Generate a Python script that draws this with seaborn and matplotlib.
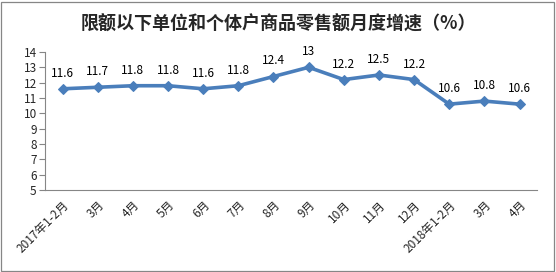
import matplotlib
matplotlib.use("Agg")
import matplotlib.pyplot as plt
import seaborn as sns
import pandas as pd
from matplotlib.patches import Rectangle

months = ["2017年1-2月", "3月", "4月", "5月", "6月", "7月", "8月", "9月",
          "10月", "11月", "12月", "2018年1-2月", "3月", "4月"]
growth = [11.6, 11.7, 11.8, 11.8, 11.6, 11.8, 12.4, 13, 12.2, 12.5, 12.2, 10.6, 10.8, 10.6]
value_labels = ["11.6", "11.7", "11.8", "11.8", "11.6", "11.8", "12.4", "13",
                "12.2", "12.5", "12.2", "10.6", "10.8", "10.6"]
title = "限额以下单位和个体户商品零售额月度增速（%）"

sns.set_theme(style="white")
plt.rcParams['font.family'] = ['Noto Sans CJK SC', 'DejaVu Sans']

df = pd.DataFrame({"idx": range(len(months)), "v": growth})

fig = plt.figure(figsize=(5.56, 2.72), dpi=100)
ax = fig.add_axes([0.081, 0.301, 0.885, 0.508])

color = "#4A7EBB"
sns.lineplot(data=df, x="idx", y="v", ax=ax, color=color, linewidth=2.6,
             marker="D", markersize=5.5, markeredgecolor=color, markerfacecolor=color)

for i, (v, t) in enumerate(zip(growth, value_labels)):
    ax.annotate(t, (i, v), xytext=(0, 6.5), textcoords="offset points",
                ha="center", va="bottom", fontsize=8.5, color="black")

ax.set_xlim(-0.5, len(months) - 0.5)
ax.set_ylim(5, 14)
ax.set_yticks(range(5, 15))
ax.set_yticklabels([str(v) for v in range(5, 15)], fontsize=8.5)
ax.set_xticks(range(len(months)))
ax.set_xticklabels(months, rotation=45, ha="right", rotation_mode="anchor", fontsize=8.5)
ax.set_xticks([i - 0.5 for i in range(len(months) + 1)], minor=True)
ax.tick_params(axis="x", which="major", length=0, pad=6)
ax.tick_params(axis="x", which="minor", length=4, color="#868686", width=0.8, direction="out")
ax.tick_params(axis="y", which="major", length=4, color="#868686", width=0.8, direction="out", pad=2, left=True)
ax.set_xlabel("")
ax.set_ylabel("")

for s in ["top", "right"]:
    ax.spines[s].set_visible(False)
for s in ["left", "bottom"]:
    ax.spines[s].set_color("#868686")
    ax.spines[s].set_linewidth(0.8)

fig.text(0.5, 0.912, title, ha="center", va="center", fontsize=13, fontweight="bold")

fig.patches.append(Rectangle((0.002, 0.004), 0.995, 0.99, transform=fig.transFigure,
                             fill=False, edgecolor="#868686", linewidth=0.9))

fig.savefig("out.png", dpi=100)
